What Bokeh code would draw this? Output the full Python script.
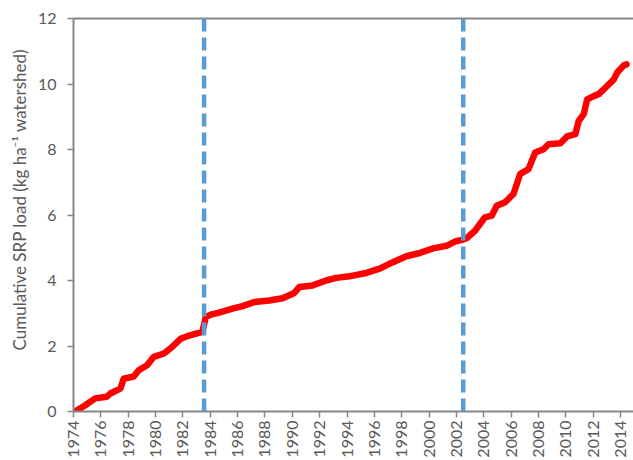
from bokeh.plotting import figure
from bokeh.models import ColumnDataSource, Span, FixedTicker, LinearAxis, Range1d, Title
from bokeh.embed import file_html
from bokeh.resources import INLINE
from math import pi

# cumulative SRP load (decimal year, kg/ha)
years = [1974.12, 1974.86, 1975.59, 1976.44, 1976.69, 1977.43, 1977.67, 1978.40,
         1978.77, 1979.38, 1979.87, 1980.61, 1981.21, 1981.83, 1982.32, 1983.42,
         1983.67, 1984.03, 1984.64, 1985.62, 1986.35, 1987.21, 1988.31, 1989.29,
         1990.15, 1990.51, 1991.49, 1992.47, 1993.21, 1994.18, 1994.43, 1995.41,
         1996.39, 1997.36, 1998.34, 1999.32, 2000.30, 2001.28, 2001.89, 2002.50,
         2002.75, 2003.36, 2004.09, 2004.58, 2004.95, 2005.56, 2006.17, 2006.66,
         2007.27, 2007.76, 2008.37, 2008.74, 2009.60, 2010.09, 2010.70, 2010.94,
         2011.31, 2011.56, 2012.04, 2012.41, 2013.02, 2013.51, 2013.76, 2014.24,
         2014.44]
load = [0.0, 0.19, 0.40, 0.45, 0.55, 0.70, 1.00, 1.07,
        1.26, 1.41, 1.67, 1.77, 1.97, 2.22, 2.30, 2.43,
        2.88, 2.96, 3.02, 3.14, 3.22, 3.34, 3.39, 3.46,
        3.62, 3.80, 3.85, 4.00, 4.08, 4.13, 4.15, 4.23,
        4.36, 4.56, 4.74, 4.84, 4.98, 5.06, 5.19, 5.25,
        5.29, 5.52, 5.93, 5.98, 6.28, 6.39, 6.64, 7.25,
        7.40, 7.91, 8.01, 8.16, 8.19, 8.40, 8.47, 8.87,
        9.08, 9.53, 9.63, 9.69, 9.94, 10.14, 10.35, 10.57,
        10.60]

breaks = [1983.55, 2002.5]
tick_years = list(range(1974, 2015, 2))
y_ticks = [0, 2, 4, 6, 8, 10, 12]

grey = "#868686"
txt = "#595959"
font = "Lato"

src = ColumnDataSource(data=dict(year=years, load=load))

p = figure(width=633, height=460, output_backend="svg", toolbar_location=None,
           x_range=Range1d(1974, 2014.95), y_range=Range1d(0, 12),
           min_border_left=73, min_border_right=0, min_border_top=18, min_border_bottom=46)
p.outline_line_color = None
p.grid.grid_line_color = None

p.line(x='year', y='load', source=src, line_color="#FF0000", line_width=6.5,
       line_join="round", line_cap="round")

for b in breaks:
    p.add_layout(Span(location=b, dimension='height', line_color="#5B9BD5",
                      line_width=4.5, line_dash="13 6"))

xax = p.below[0]
yax = p.left[0]
xax.ticker = FixedTicker(ticks=tick_years)
yax.ticker = FixedTicker(ticks=y_ticks)
xax.major_label_orientation = pi / 2

for ax in [xax, yax]:
    ax.axis_line_color = grey
    ax.axis_line_width = 2
    ax.major_tick_line_color = grey
    ax.major_tick_line_width = 1.5
    ax.major_tick_in = 0
    ax.major_tick_out = 6
    ax.minor_tick_line_color = None
    ax.major_label_text_font = font
    ax.major_label_text_font_size = "16px"
    ax.major_label_text_color = txt

xax.major_label_standoff = 3
yax.major_label_standoff = 11

# y label sits a bit above centre, as in the original
ylab = Title(text="Cumulative SRP load (kg ha\u207b\u00b9 watershed)", align="left",
             offset=61, text_font=font, text_font_size="17px", text_font_style="normal",
             text_color=txt, standoff=10)
p.add_layout(ylab, "left")

# top border line
top = LinearAxis(ticker=FixedTicker(ticks=[]), axis_line_color=grey, axis_line_width=2,
                 major_tick_line_color=None, minor_tick_line_color=None,
                 major_label_text_color=None, major_label_standoff=0)
p.add_layout(top, "above")

open("out.html", "w").write(file_html(p, INLINE))
